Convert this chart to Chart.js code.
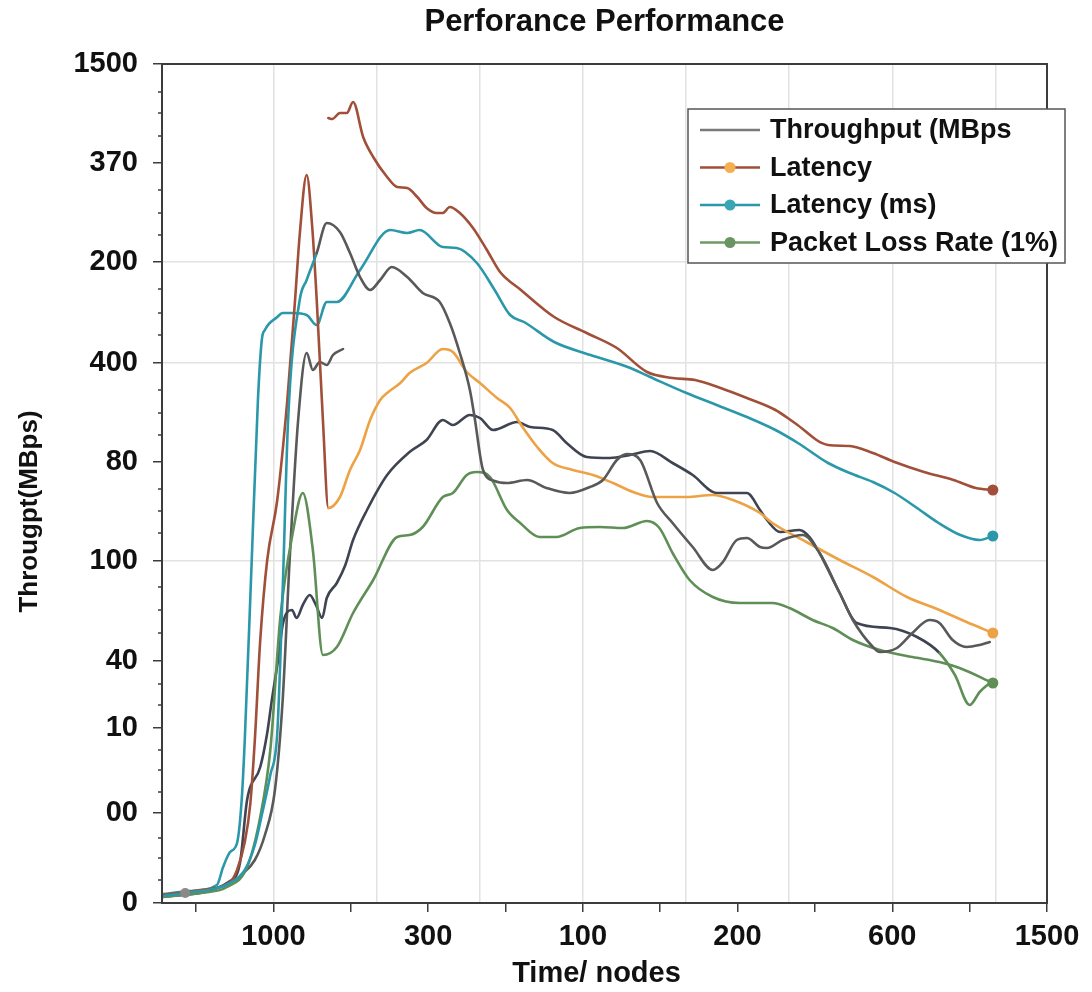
<!DOCTYPE html>
<html>
<head>
<meta charset="utf-8">
<title>Perforance Performance</title>
<script src="https://cdn.jsdelivr.net/npm/chart.js@4.4.1/dist/chart.umd.min.js"></script>
<style>
  html, body { margin: 0; padding: 0; background: #fff; }
</style>
</head>
<body>
<canvas id="perfChart" width="1092" height="992"></canvas>
<script>
// x ticks: one mark per unit, a label on every other one
const xTickValues = [0, 1, 2, 3, 4, 5, 6, 7, 8, 9, 10, 11];
const xTickLabels = ['', '1000', '', '300', '', '100', '', '200', '', '600', '', '1500'];
const xGridValues = [1, 2.333, 3.667, 5, 6.333, 7.667, 9, 10.333];

// y ticks (the axis labels are not monotonic, so positions are kept apart)
const yTickValues = [0, 9.0, 17.5, 24.2, 34.2, 44.1, 54.0, 64.1, 74.0, 83.9];
const yTickLabels = ['0', '00', '10', '40', '100', '80', '400', '200', '370', '1500'];
const yGridLabels = ['100', '400', '200'];
const yMinorTicks = [2.3, 4.5, 6.5, 11.1, 13.3, 15.3, 19.8, 21.9, 27.0, 29.3, 31.6, 37.0, 39.2, 41.4,
  46.8, 49.0, 51.3, 56.8, 59.0, 61.4, 66.8, 69.0, 71.3, 76.7, 79.0, 81.1];

// Throughput (MBps
const throughputX = [-0.43, -0.14, 0.44, 0.63, 0.76, 0.85, 0.96, 1.05, 1.12, 1.19, 1.34, 1.43, 1.56, 1.69,
  1.86, 1.99, 2.12, 2.25, 2.38, 2.53, 2.73, 2.93, 3.15, 3.28, 3.41, 3.54, 3.60, 3.71, 3.86, 4.02, 4.28,
  4.53, 4.83, 5.09, 5.26, 5.44, 5.57, 5.74, 5.96, 6.16, 6.42, 6.68, 6.81, 6.99, 7.12, 7.29, 7.38, 7.58,
  7.84, 8.06, 8.32, 8.49, 8.75, 8.84, 9.06, 9.26, 9.48, 9.61, 9.78, 9.96, 10.13, 10.26];
const throughputY = [0.7, 1.0, 2.0, 3.3, 5.8, 8.8, 12.8, 17.0, 31.3, 48.3, 60.3, 62.3, 65.0, 68.0,
  67.1, 65.0, 62.6, 61.3, 62.3, 63.6, 62.6, 61.0, 60.1, 58.0, 55.0, 51.3, 48.6, 43.3, 42.2, 42.0, 42.3,
  41.5, 41.0, 41.6, 42.3, 44.3, 44.9, 44.3, 40.0, 38.0, 35.6, 33.3, 34.1, 36.3, 36.5, 35.6, 35.5, 36.3,
  36.8, 35.0, 31.0, 28.3, 25.6, 25.1, 25.5, 27.0, 28.3, 28.0, 26.3, 25.6, 25.8, 26.1];

// Latency (brown spike, then orange)
const latencyX = [-0.43, 0.05, 0.44, 0.53, 0.63, 0.70, 0.76, 0.83, 0.92, 1.05, 1.18, 1.28, 1.34, 1.43,
  1.50, 1.56, 1.64, 1.71, 1.86, 1.99, 2.12, 2.25, 2.38, 2.47, 2.64, 2.76, 2.98, 3.19, 3.32, 3.50, 3.67,
  3.89, 4.06, 4.22, 4.41, 4.61, 4.87, 5.13, 5.39, 5.65, 5.90, 6.34, 6.68, 6.94, 7.29, 7.45, 7.89, 8.32,
  8.75, 9.19, 9.61, 9.96, 10.30];
const latencyY = [0.8, 1.3, 2.1, 3.3, 6.1, 9.8, 16.3, 26.3, 34.3, 40.3, 50.3, 60.3, 66.8, 72.8,
  67.8, 60.3, 48.3, 39.5, 40.6, 43.3, 45.3, 48.3, 50.3, 51.0, 52.0, 53.0, 54.0, 55.4, 55.1, 53.1, 52.0,
  50.5, 49.5, 47.6, 45.6, 44.0, 43.3, 42.8, 42.0, 41.1, 40.6, 40.6, 40.8, 40.3, 39.0, 38.0, 36.1, 34.3,
  32.6, 30.6, 29.3, 28.1, 27.0];

// Latency (ms)
const latencyMsX = [-0.43, -0.08, 0.27, 0.35, 0.44, 0.53, 0.59, 0.63, 0.72, 0.80, 0.85, 0.89, 1.05, 1.12,
  1.25, 1.43, 1.56, 1.69, 1.82, 2.12, 2.51, 2.73, 2.89, 3.19, 3.37, 3.63, 3.86, 4.06, 4.24, 4.63, 5.10,
  5.58, 5.87, 6.34, 6.73, 7.12, 7.49, 7.78, 8.17, 8.45, 8.75, 9.03, 9.32, 9.60, 9.88, 10.13, 10.30];
const latencyMsY = [0.9, 1.2, 1.8, 3.6, 5.1, 6.0, 10.3, 16.3, 34.3, 50.3, 56.3, 57.3, 58.6, 59.0,
  59.0, 58.8, 57.8, 60.1, 60.1, 63.3, 67.3, 67.0, 67.3, 65.6, 65.5, 64.0, 61.3, 58.8, 58.1, 56.1, 54.8,
  53.6, 52.6, 51.0, 49.8, 48.6, 47.3, 46.0, 44.0, 43.0, 42.1, 41.0, 39.5, 38.0, 36.8, 36.3, 36.7];

// Packet Loss Rate (1%)
const packetLossX = [-0.43, 0.05, 0.40, 0.66, 0.83, 0.96, 1.09, 1.25, 1.38, 1.51, 1.64, 1.82, 2.03, 2.29,
  2.60, 2.76, 2.93, 3.19, 3.32, 3.50, 3.63, 3.80, 4.02, 4.19, 4.44, 4.66, 4.96, 5.22, 5.52, 5.83, 5.99,
  6.16, 6.38, 6.68, 7.03, 7.45, 7.67, 7.97, 8.23, 8.49, 8.84, 9.26, 9.61, 9.87, 10.30];
const packetLossY = [0.6, 1.0, 1.6, 3.6, 8.6, 15.3, 28.6, 37.0, 41.0, 35.3, 24.8, 25.6, 29.0, 32.3,
  36.6, 36.8, 37.6, 40.6, 41.0, 42.8, 43.1, 42.6, 39.3, 38.0, 36.6, 36.6, 37.5, 37.6, 37.5, 38.2, 37.5,
  35.0, 32.3, 30.6, 30.0, 30.0, 29.5, 28.3, 27.5, 26.3, 25.3, 24.6, 24.1, 23.5, 22.0];

// unlabelled extra curves
const upperLatencyX = [1.71, 1.76, 1.86, 1.95, 2.03, 2.16, 2.29, 2.47, 2.60, 2.73, 2.86, 2.98, 3.11, 3.19,
  3.28, 3.41, 3.58, 3.76, 3.93, 4.20, 4.63, 5.05, 5.44, 5.83, 6.16, 6.45, 6.78, 7.12, 7.49, 7.74, 8.17,
  8.45, 8.75, 9.03, 9.41, 9.79, 10.08, 10.30];
const upperLatencyY = [78.5, 78.4, 79.0, 79.0, 80.1, 76.6, 74.6, 72.6, 71.6, 71.5, 70.6, 69.5, 69.0, 69.0,
  69.6, 69.0, 67.5, 65.3, 63.1, 61.3, 58.6, 57.0, 55.5, 53.1, 52.5, 52.3, 51.5, 50.5, 49.3, 48.0, 45.8,
  45.7, 45.0, 44.1, 43.1, 42.3, 41.5, 41.3];

const lowerThroughputX = [-0.43, 0.44, 0.57, 0.66, 0.83, 0.92, 0.98, 1.06, 1.12, 1.18, 1.24, 1.30, 1.38,
  1.47, 1.55, 1.63, 1.69, 1.82, 1.93, 2.03, 2.21, 2.47, 2.76, 2.98, 3.19, 3.32, 3.54, 3.67, 3.84, 4.15,
  4.32, 4.61, 4.79, 5.05, 5.35, 5.61, 5.87, 6.16, 6.42, 6.73, 7.12, 7.29, 7.38, 7.55, 7.80, 7.93, 8.06,
  8.32, 8.54, 8.97, 9.32, 9.61, 9.81, 10.00, 10.13, 10.26];
const lowerThroughputY = [0.6, 2.2, 4.1, 10.3, 13.6, 17.0, 20.3, 24.3, 27.8, 29.1, 29.3, 28.5, 29.8,
  30.8, 29.8, 28.5, 30.5, 32.0, 33.8, 36.3, 39.3, 42.8, 45.1, 46.3, 48.3, 47.8, 48.8, 48.5, 47.3, 48.1,
  47.6, 47.3, 46.0, 44.6, 44.5, 44.8, 45.2, 44.0, 42.8, 41.0, 41.0, 39.3, 38.3, 37.1, 37.3, 36.6, 35.0,
  31.0, 28.0, 27.5, 26.6, 25.0, 22.8, 19.8, 21.1, 22.0];

const shortThroughputX = [0.57, 0.76, 0.89, 1.02, 1.12, 1.21, 1.32, 1.43, 1.51, 1.60, 1.69, 1.77, 1.90];
const shortThroughputY = [2.7, 4.3, 6.8, 11.3, 20.3, 34.3, 48.3, 55.0, 53.3, 54.1, 53.8, 54.8, 55.4];

const colors = {
  gray: '#595959',
  navy: '#3e4452',
  brown: '#a14f38',
  orange: '#eca245',
  teal: '#2a98a9',
  green: '#5f8f57',
  axis: '#3c3c3c',
  grid: '#e2e2e2',
  text: '#111111'
};

const legendStyle = [
  { line: '#7a7a7a', dot: null },
  { line: colors.brown, dot: '#f4b04e' },
  { line: colors.teal, dot: '#3aa5b5' },
  { line: '#6f9a67', dot: '#6a9462' }
];

const toPoints = (xs, ys) => xs.map((x, i) => ({ x: x, y: ys[i] }));
const lastDot = r => ctx => ctx.dataIndex === ctx.dataset.data.length - 1 ? r : 0;

function lineSet(label, xs, ys, color, extra) {
  return Object.assign({
    label: label,
    data: toPoints(xs, ys),
    borderColor: color,
    backgroundColor: color,
    pointBackgroundColor: color,
    pointBorderWidth: 0,
    borderWidth: 2.6,
    cubicInterpolationMode: 'monotone',
    borderCapStyle: 'round',
    borderJoinStyle: 'round',
    pointRadius: 0,
    fill: false
  }, extra || {});
}

const datasets = [
  lineSet('Throughput (MBps', throughputX, throughputY, colors.gray, {
    segment: { borderColor: c => c.p0.parsed.x < 1.56 ? colors.teal : undefined },
    pointRadius: c => c.dataIndex === 1 ? 5 : 0,
    pointBackgroundColor: '#8a8a8a'
  }),
  lineSet('Latency', latencyX, latencyY, colors.orange, {
    segment: { borderColor: c => c.p0.parsed.x < 1.71 ? colors.brown : undefined },
    pointRadius: lastDot(5.5)
  }),
  lineSet('Latency (ms)', latencyMsX, latencyMsY, colors.teal, { pointRadius: lastDot(5.5) }),
  lineSet('Packet Loss Rate (1%)', packetLossX, packetLossY, colors.green, { pointRadius: lastDot(5.5) }),
  lineSet('', upperLatencyX, upperLatencyY, colors.brown, { pointRadius: lastDot(5.5) }),
  lineSet('', lowerThroughputX, lowerThroughputY, colors.navy, {
    segment: { borderColor: c => c.p0.parsed.x >= 9.61 ? colors.green : undefined }
  }),
  lineSet('', shortThroughputX, shortThroughputY, colors.gray)
];

const allXTicks = Array.from(new Set(xTickValues.concat(xGridValues))).sort((a, b) => a - b);

const decorations = {
  id: 'decorations',
  afterDraw(chart) {
    const { ctx, chartArea: a, scales } = chart;
    ctx.save();

    // frame round the plot
    ctx.strokeStyle = colors.axis;
    ctx.lineWidth = 2;
    ctx.strokeRect(a.left, a.top, a.right - a.left, a.bottom - a.top);

    // short minor ticks on the y axis
    ctx.lineWidth = 1.5;
    yMinorTicks.forEach(v => {
      const y = scales.y.getPixelForValue(v);
      ctx.beginPath();
      ctx.moveTo(a.left - 4, y);
      ctx.lineTo(a.left, y);
      ctx.stroke();
    });

    // axis titles
    ctx.fillStyle = colors.text;
    ctx.textAlign = 'center';
    ctx.textBaseline = 'middle';
    ctx.font = 'bold 29px "Liberation Sans", Arial, sans-serif';
    ctx.fillText('Time/ nodes', (a.left + a.right) / 2 - 8, a.bottom + 71);
    ctx.save();
    ctx.translate(30, (a.top + a.bottom) / 2 + 28);
    ctx.rotate(-Math.PI / 2);
    ctx.font = 'bold 26px "Liberation Sans", Arial, sans-serif';
    ctx.fillText('Througpt(MBps)', 0, 0);
    ctx.restore();

    // legend box
    const bx = a.right - 359, by = a.top + 45, bw = 377, bh = 154;
    ctx.fillStyle = '#ffffff';
    ctx.fillRect(bx, by, bw, bh);
    ctx.strokeStyle = '#555555';
    ctx.lineWidth = 1.5;
    ctx.strokeRect(bx, by, bw, bh);
    ctx.font = 'bold 27px "Liberation Sans", Arial, sans-serif';
    ctx.textAlign = 'left';
    chart.data.datasets.slice(0, 4).forEach((ds, i) => {
      const y = by + 21 + i * 37.5;
      const st = legendStyle[i];
      ctx.strokeStyle = st.line;
      ctx.lineWidth = 2.5;
      ctx.beginPath();
      ctx.moveTo(bx + 12, y);
      ctx.lineTo(bx + 72, y);
      ctx.stroke();
      if (st.dot) {
        ctx.fillStyle = st.dot;
        ctx.beginPath();
        ctx.arc(bx + 42, y, 5.5, 0, Math.PI * 2);
        ctx.fill();
      }
      ctx.fillStyle = colors.text;
      ctx.fillText(ds.label, bx + 82, y + 1);
    });

    ctx.restore();
  }
};

const perfChart = new Chart(document.getElementById('perfChart'), {
  type: 'line',
  data: { datasets: datasets },
  options: {
    responsive: false,
    animation: false,
    events: [],
    layout: { padding: { left: 0, right: 45, top: 0, bottom: 0 } },
    plugins: {
      legend: { display: false },
      tooltip: { enabled: false },
      title: {
        display: true,
        text: 'Perforance Performance',
        fullSize: false,
        color: colors.text,
        font: { family: '"Liberation Sans", Arial, sans-serif', size: 31, weight: 'bold', lineHeight: 1.2 },
        padding: { top: 4, bottom: 22.8 }
      }
    },
    scales: {
      x: {
        type: 'linear',
        min: -0.44,
        max: 11,
        afterBuildTicks: scale => { scale.ticks = allXTicks.map(v => ({ value: v })); },
        afterFit: scale => { scale.height = 89; },
        border: { display: true, color: colors.axis, width: 2 },
        grid: {
          color: c => xGridValues.includes(c.tick.value) ? colors.grid : 'rgba(0,0,0,0)',
          tickColor: c => xTickValues.includes(c.tick.value) ? colors.axis : 'rgba(0,0,0,0)',
          lineWidth: 1.5,
          tickWidth: 1.5,
          tickLength: 9
        },
        ticks: {
          autoSkip: false,
          maxRotation: 0,
          padding: 8,
          color: colors.text,
          font: { family: '"Liberation Sans", Arial, sans-serif', size: 29, weight: 'bold' },
          callback: value => {
            const i = xTickValues.indexOf(value);
            return i >= 0 ? xTickLabels[i] : '';
          }
        }
      },
      y: {
        type: 'linear',
        min: 0,
        max: 83.9,
        afterBuildTicks: scale => { scale.ticks = yTickValues.map(v => ({ value: v })); },
        afterFit: scale => { scale.width = 162; },
        border: { display: true, color: colors.axis, width: 2 },
        grid: {
          color: c => yGridLabels.includes(yTickLabels[c.index]) ? colors.grid : 'rgba(0,0,0,0)',
          tickColor: colors.axis,
          lineWidth: 1.5,
          tickWidth: 1.5,
          tickLength: 9
        },
        ticks: {
          autoSkip: false,
          padding: 15,
          color: colors.text,
          font: { family: '"Liberation Sans", Arial, sans-serif', size: 29, weight: 'bold' },
          callback: (value, index) => yTickLabels[index]
        }
      }
    }
  },
  plugins: [decorations]
});
</script>
</body>
</html>
